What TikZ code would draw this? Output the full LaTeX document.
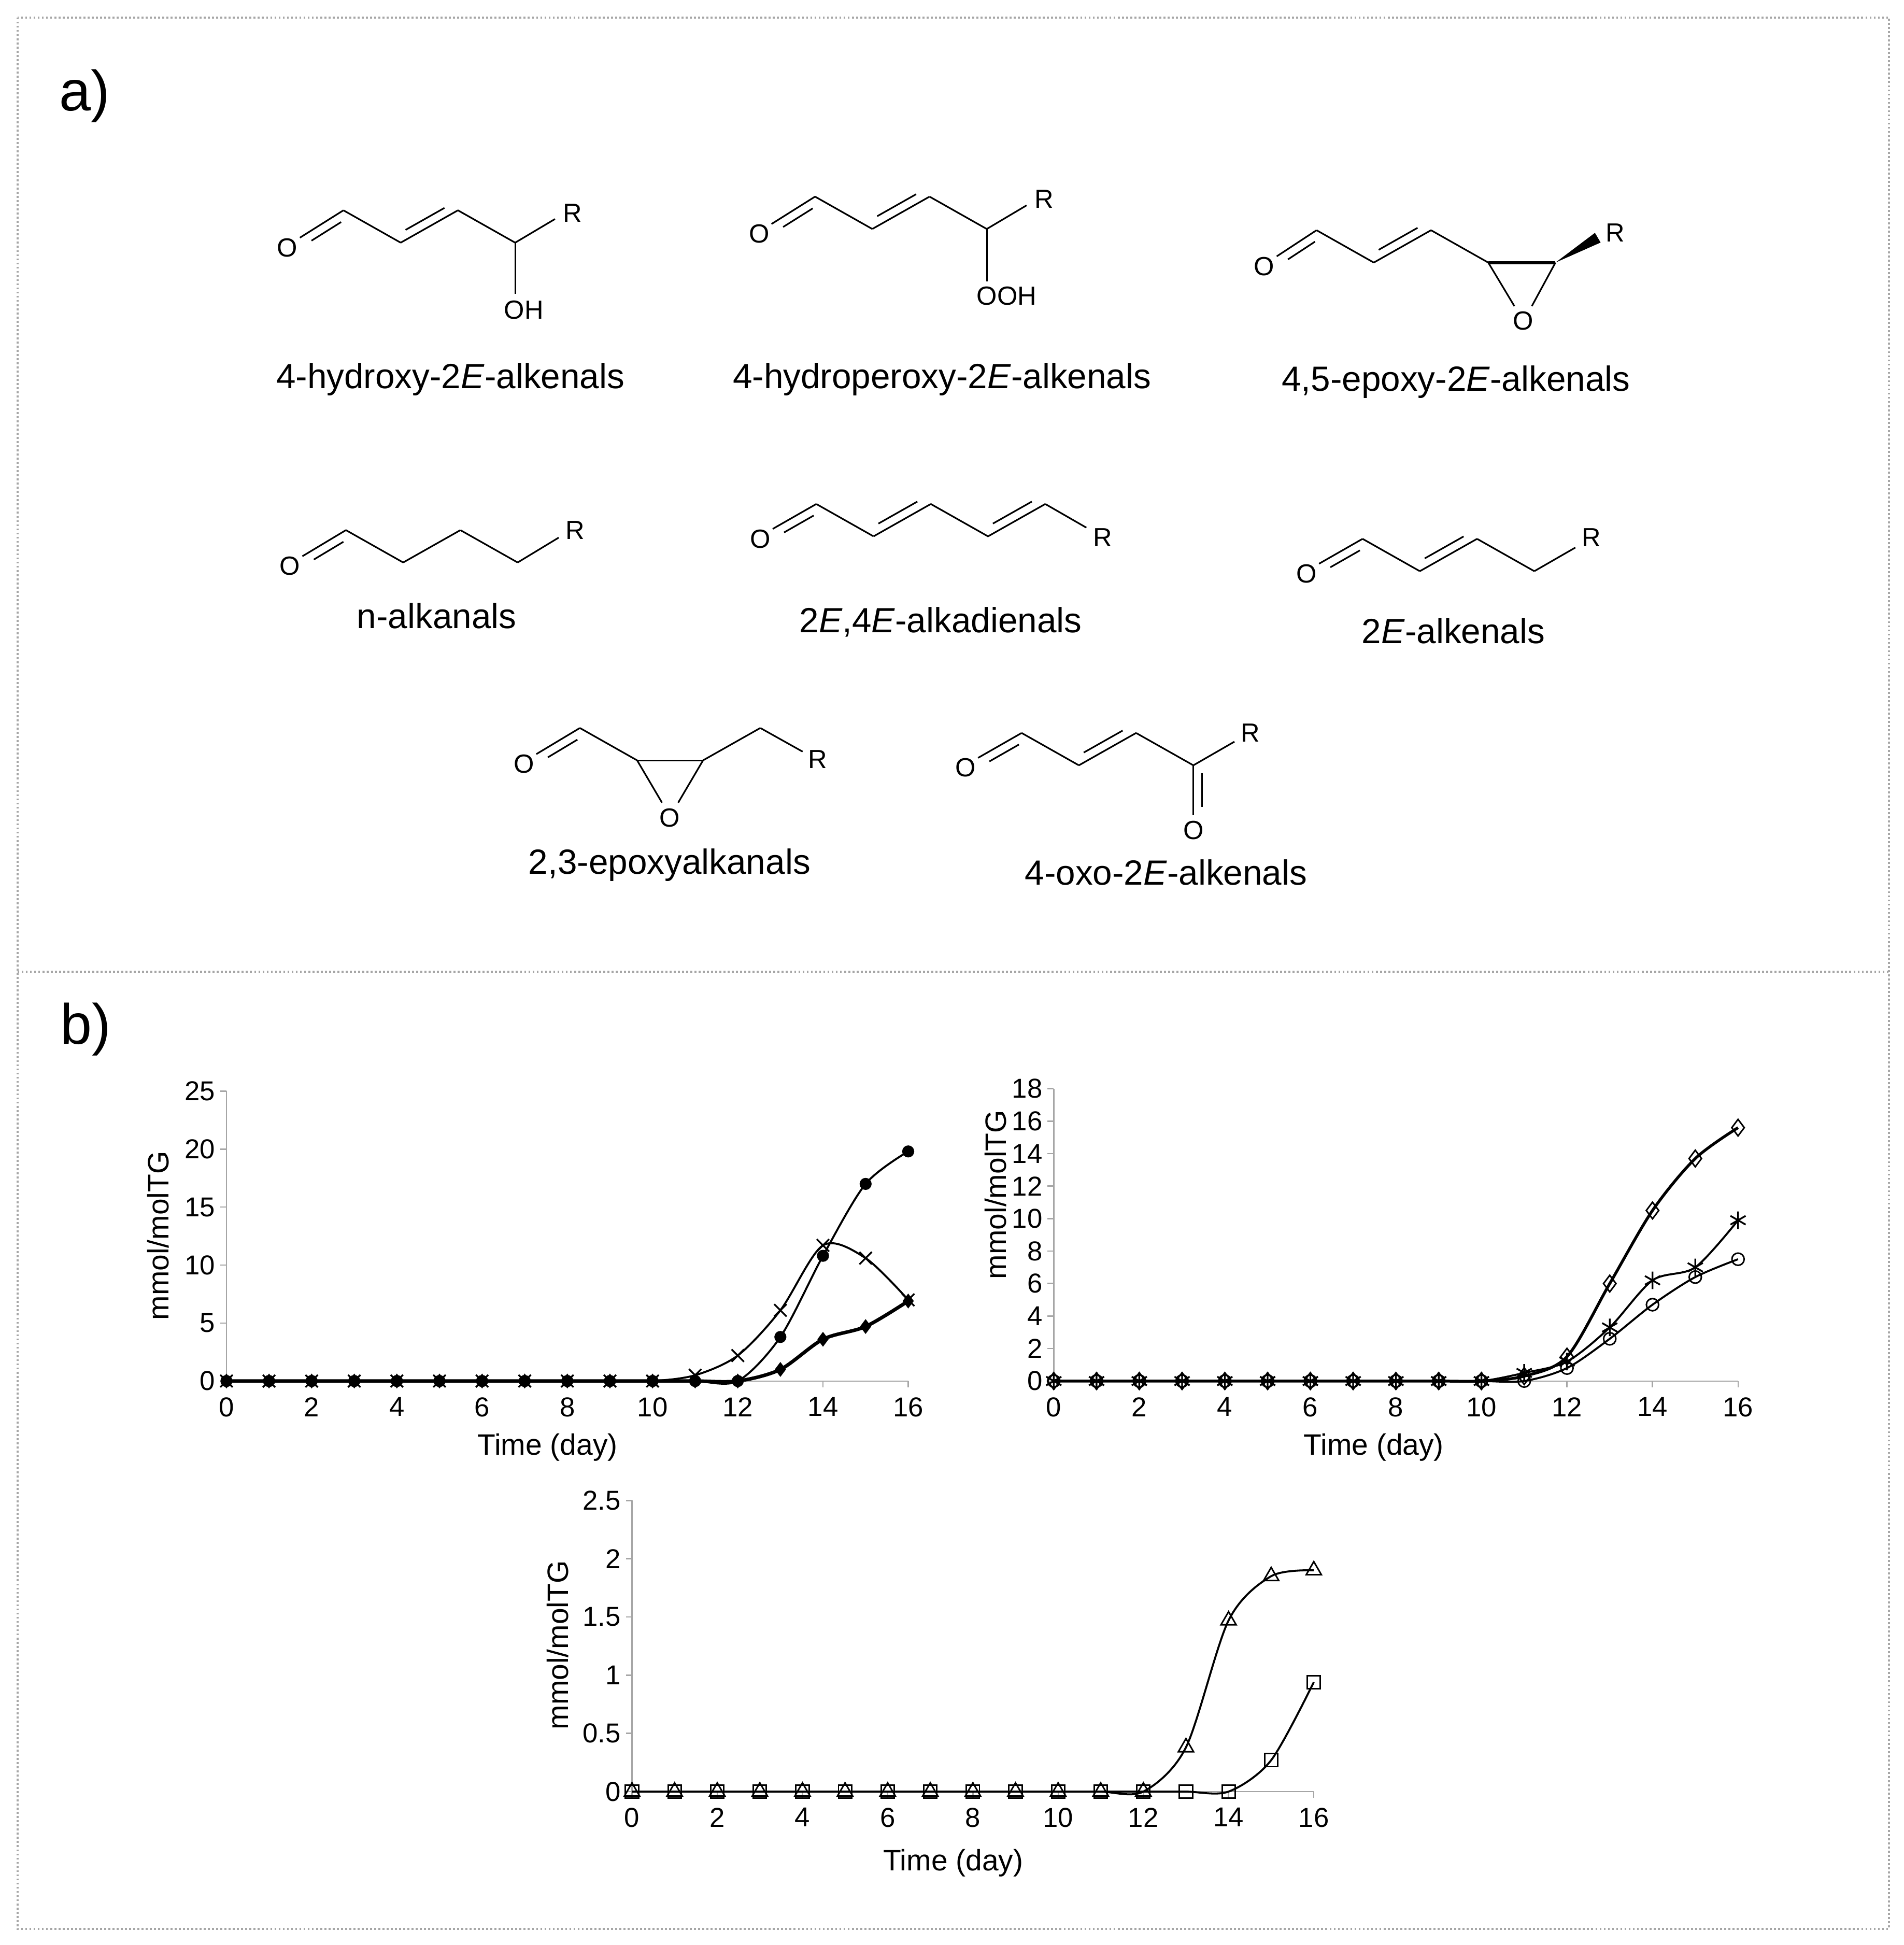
\documentclass[tikz,border=0pt]{standalone}
\usepackage{fontspec}
\setmainfont{Liberation Sans}
\usetikzlibrary{calc,plotmarks}
\tikzset{
  bondst/.style={line width=0.75pt},
  atom/.style={font=\fontsize{12}{14}\selectfont, inner sep=0pt},
  cname/.style={font=\fontsize{16}{19}\selectfont},
  tick/.style={font=\fontsize{12.5}{15}\selectfont, inner sep=1pt},
  axtitle/.style={font=\fontsize{13.5}{16}\selectfont},
  axisln/.style={gray!70, line width=0.6pt},
  curve/.style={black, line width=0.9pt, smooth, tension=0.5},
  frame/.style={gray!70, densely dotted, line width=0.9pt}
}
\newcommand\bnd[2]{\draw[bondst] (#1) -- (#2);}
\newcommand\dbl[4]{\draw[bondst] (#1) -- (#2);
  \draw[bondst] ($(#1)!0.16!(#2)!0.14cm!#3:(#2)$) -- ($(#2)!0.16!(#1)!0.14cm!#4:(#1)$);}
\begin{document}
\begin{tikzpicture}[x=0.02cm, y=-0.02cm]
\useasboundingbox (0,0) rectangle (1530,1563);
\fill[white] (0,0) rectangle (1530,1563);
\draw[frame] (14,14) rectangle (1518,1550);
\draw[frame] (14,781) -- (1518,781);
\node[font=\fontsize{26}{30}\selectfont] (la) at (68,77) {a)};
\node[font=\fontsize{26}{30}\selectfont] (lb) at (69,827) {b)};

% S1 4-hydroxy
\node[atom] (s1O) at (231,199) {O};
\coordinate (s1Oe) at (241,191); \coordinate (s1c1) at (276,169); \coordinate (s1c2) at (322,195);
\coordinate (s1c3) at (368,169); \coordinate (s1c4) at (414,195); \coordinate (s1Re) at (446,176);
\node[atom] (s1R) at (460,171) {R};
\coordinate (s1OHe) at (414,236); \node[atom] (s1OH) at (421,249) {OH};
\dbl{s1c1}{s1Oe}{90}{-90} \bnd{s1c1}{s1c2} \dbl{s1c2}{s1c3}{90}{-90} \bnd{s1c3}{s1c4} \bnd{s1c4}{s1Re} \bnd{s1c4}{s1OHe}
\node[cname] (n1) at (362,305) {4-hydroxy-2\textit{E}-alkenals};

% S2 4-hydroperoxy
\node[atom] (s2O) at (610,188) {O};
\coordinate (s2Oe) at (620,180); \coordinate (s2c1) at (655,158); \coordinate (s2c2) at (701,184);
\coordinate (s2c3) at (747,158); \coordinate (s2c4) at (793,184); \coordinate (s2Re) at (825,165);
\node[atom] (s2R) at (839,160) {R};
\coordinate (s2OOe) at (793,226); \node[atom] (s2OOH) at (809,238) {OOH};
\dbl{s2c1}{s2Oe}{90}{-90} \bnd{s2c1}{s2c2} \dbl{s2c2}{s2c3}{90}{-90} \bnd{s2c3}{s2c4} \bnd{s2c4}{s2Re} \bnd{s2c4}{s2OOe}
\node[cname] (n2) at (757,305) {4-hydroperoxy-2\textit{E}-alkenals};

% S3 4,5-epoxy
\node[atom] (s3O) at (1016,214) {O};
\coordinate (s3Oe) at (1026,206); \coordinate (s3c1) at (1058,185); \coordinate (s3c2) at (1104,211);
\coordinate (s3c3) at (1150,185); \coordinate (s3c4) at (1196,211); \coordinate (s3c5) at (1250,211);
\coordinate (s3e1) at (1217,246); \coordinate (s3e2) at (1231,246);
\node[atom] (s3Oep) at (1224,258) {O};
\coordinate (s3Re) at (1284,191); \node[atom] (s3R) at (1298,187) {R};
\dbl{s3c1}{s3Oe}{90}{-90} \bnd{s3c1}{s3c2} \dbl{s3c2}{s3c3}{90}{-90} \bnd{s3c3}{s3c4}
\draw[bondst, line width=1.4pt] (s3c4) -- (s3c5);
\bnd{s3c4}{s3e1} \bnd{s3c5}{s3e2}
\fill (s3c5) -- ($(s3Re)!0.09cm!90:(s3c5)$) -- ($(s3Re)!0.09cm!-90:(s3c5)$) -- cycle;
\node[cname] (n3) at (1170,307) {4,5-epoxy-2\textit{E}-alkenals};

% S4 n-alkanals
\node[atom] (s4O) at (233,455) {O};
\coordinate (s4Oe) at (243,447); \coordinate (s4c1) at (278,426); \coordinate (s4c2) at (324,452);
\coordinate (s4c3) at (370,426); \coordinate (s4c4) at (416,452); \coordinate (s4Re) at (449,432);
\node[atom] (s4R) at (462,426) {R};
\dbl{s4c1}{s4Oe}{90}{-90} \bnd{s4c1}{s4c2} \bnd{s4c2}{s4c3} \bnd{s4c3}{s4c4} \bnd{s4c4}{s4Re}
\node[cname] (n4) at (351,495) {n-alkanals};

% S5 2E,4E-alkadienals
\node[atom] (s5O) at (611,433) {O};
\coordinate (s5Oe) at (621,425); \coordinate (s5c1) at (656,405); \coordinate (s5c2) at (702,431);
\coordinate (s5c3) at (748,405); \coordinate (s5c4) at (794,431); \coordinate (s5c5) at (840,405);
\coordinate (s5Re) at (873,424); \node[atom] (s5R) at (886,432) {R};
\dbl{s5c1}{s5Oe}{90}{-90} \bnd{s5c1}{s5c2} \dbl{s5c2}{s5c3}{90}{-90} \bnd{s5c3}{s5c4} \dbl{s5c4}{s5c5}{90}{-90} \bnd{s5c5}{s5Re}
\node[cname] (n5) at (756,500) {2\textit{E},4\textit{E}-alkadienals};

% S6 2E-alkenals
\node[atom] (s6O) at (1050,461) {O};
\coordinate (s6Oe) at (1060,453); \coordinate (s6c1) at (1095,433); \coordinate (s6c2) at (1141,459);
\coordinate (s6c3) at (1187,433); \coordinate (s6c4) at (1233,459); \coordinate (s6Re) at (1266,440);
\node[atom] (s6R) at (1279,432) {R};
\dbl{s6c1}{s6Oe}{90}{-90} \bnd{s6c1}{s6c2} \dbl{s6c2}{s6c3}{90}{-90} \bnd{s6c3}{s6c4} \bnd{s6c4}{s6Re}
\node[cname] (n6) at (1168,507) {2\textit{E}-alkenals};

% S7 2,3-epoxyalkanals
\node[atom] (s7O) at (421,614) {O};
\coordinate (s7Oe) at (431,606); \coordinate (s7c1) at (466,585); \coordinate (s7c2) at (512,611);
\coordinate (s7c3) at (565,611); \coordinate (s7e1) at (532,645); \coordinate (s7e2) at (545,645);
\node[atom] (s7Oep) at (538,657) {O};
\coordinate (s7c4) at (611,585); \coordinate (s7Re) at (645,604); \node[atom] (s7R) at (657,610) {R};
\dbl{s7c1}{s7Oe}{90}{-90} \bnd{s7c1}{s7c2} \bnd{s7c2}{s7c3} \bnd{s7c2}{s7e1} \bnd{s7c3}{s7e2} \bnd{s7c3}{s7c4} \bnd{s7c4}{s7Re}
\node[cname] (n7) at (538,695) {2,3-epoxyalkanals};

% S8 4-oxo-2E-alkenals
\node[atom] (s8O) at (776,617) {O};
\coordinate (s8Oe) at (786,609); \coordinate (s8c1) at (821,589); \coordinate (s8c2) at (867,615);
\coordinate (s8c3) at (913,589); \coordinate (s8c4) at (959,615); \coordinate (s8Re) at (992,596);
\node[atom] (s8R) at (1005,589) {R};
\coordinate (s8O2e) at (959,655); \node[atom] (s8O2) at (959,667) {O};
\dbl{s8c1}{s8Oe}{90}{-90} \bnd{s8c1}{s8c2} \dbl{s8c2}{s8c3}{90}{-90} \bnd{s8c3}{s8c4} \bnd{s8c4}{s8Re} \dbl{s8c4}{s8O2e}{90}{-90}
\node[cname] (n8) at (937,701) {4-oxo-2\textit{E}-alkenals};

% axis titles
\node[axtitle] (t1) at (440,1163) {Time (day)};
\node[axtitle] (t2) at (1104,1163) {Time (day)};
\node[axtitle] (t3) at (766,1497) {Time (day)};
\node[axtitle, rotate=90] (y1) at (127,993) {mmol/molTG};
\node[axtitle, rotate=90] (y2) at (800,960) {mmol/molTG};
\node[axtitle, rotate=90] (y3) at (448,1322) {mmol/molTG};

% Chart 1
\begin{scope}[shift={(3.64cm,-22.2cm)}, x=0.685cm, y=0.1864cm]
\draw[axisln] (0,0) -- (0,25); \draw[axisln] (0,0) -- (16,0);
\foreach \v in {0,5,...,25} {\draw[axisln] (0,\v) -- ++(-0.1cm,0); \node[tick,anchor=east] at ([xshift=-0.14cm]0,\v) {\v};}
\foreach \v in {0,2,...,16} {\draw[axisln] (\v,0) -- ++(0,-0.1cm); \node[tick,anchor=north] at ([yshift=-0.22cm]\v,0) {\v};}
\draw[curve, mark=*, mark size=2.3pt] plot coordinates {(0,0)(1,0)(2,0)(3,0)(4,0)(5,0)(6,0)(7,0)(8,0)(9,0)(10,0)(11,0)(12,0)(13,3.8)(14,10.8)(15,17)(16,19.8)};
\draw[curve, mark=x, mark size=4pt, mark options={line width=0.8pt}] plot coordinates {(0,0)(1,0)(2,0)(3,0)(4,0)(5,0)(6,0)(7,0)(8,0)(9,0)(10,0)(11,0.5)(12,2.2)(13,6.1)(14,11.7)(15,10.6)(16,7)};
\draw[curve, line width=1.6pt, mark=diamond*, mark size=3pt, mark options={line width=0.5pt}] plot coordinates {(0,0)(1,0)(2,0)(3,0)(4,0)(5,0)(6,0)(7,0)(8,0)(9,0)(10,0)(11,0)(12,0)(13,1)(14,3.6)(15,4.7)(16,6.9)};
\end{scope}

% Chart 2
\begin{scope}[shift={(16.94cm,-22.2cm)}, x=0.6875cm, y=0.2611cm]
\draw[axisln] (0,0) -- (0,18); \draw[axisln] (0,0) -- (16,0);
\foreach \v in {0,2,...,18} {\draw[axisln] (0,\v) -- ++(-0.1cm,0); \node[tick,anchor=east] at ([xshift=-0.14cm]0,\v) {\v};}
\foreach \v in {0,2,...,16} {\draw[axisln] (\v,0) -- ++(0,-0.1cm); \node[tick,anchor=north] at ([yshift=-0.22cm]\v,0) {\v};}
\draw[curve, mark=o, mark size=2.8pt, mark options={fill=white, line width=0.7pt}] plot coordinates {(0,0)(1,0)(2,0)(3,0)(4,0)(5,0)(6,0)(7,0)(8,0)(9,0)(10,0)(11,0)(12,0.8)(13,2.6)(14,4.7)(15,6.4)(16,7.5)};
\draw[curve, mark=asterisk, mark size=4pt, mark options={line width=0.8pt}] plot coordinates {(0,0)(1,0)(2,0)(3,0)(4,0)(5,0)(6,0)(7,0)(8,0)(9,0)(10,0)(11,0.5)(12,1.2)(13,3.3)(14,6.2)(15,7)(16,9.9)};
\draw[curve, line width=1.3pt, mark=diamond, mark size=3.8pt, mark options={fill=white, line width=0.7pt}] plot coordinates {(0,0)(1,0)(2,0)(3,0)(4,0)(5,0)(6,0)(7,0)(8,0)(9,0)(10,0)(11,0.3)(12,1.5)(13,6)(14,10.5)(15,13.7)(16,15.6)};
\end{scope}

% Chart 3
\begin{scope}[shift={(10.16cm,-28.8cm)}, x=0.685cm, y=1.872cm]
\draw[axisln] (0,0) -- (0,2.5); \draw[axisln] (0,0) -- (16,0);
\foreach \v in {0,0.5,1,1.5,2,2.5} {\draw[axisln] (0,\v) -- ++(-0.1cm,0); \node[tick,anchor=east] at ([xshift=-0.14cm]0,\v) {\v};}
\foreach \v in {0,2,...,16} {\draw[axisln] (\v,0) -- ++(0,-0.1cm); \node[tick,anchor=north] at ([yshift=-0.22cm]\v,0) {\v};}
\draw[curve, mark=square, mark size=3pt, mark options={fill=white, line width=0.7pt}] plot coordinates {(0,0)(1,0)(2,0)(3,0)(4,0)(5,0)(6,0)(7,0)(8,0)(9,0)(10,0)(11,0)(12,0)(13,0)(14,0)(15,0.27)(16,0.94)};
\draw[curve, mark=triangle, mark size=4pt, mark options={fill=white, line width=0.7pt}] plot coordinates {(0,0)(1,0)(2,0)(3,0)(4,0)(5,0)(6,0)(7,0)(8,0)(9,0)(10,0)(11,0)(12,0)(13,0.38)(14,1.47)(15,1.85)(16,1.9)};
\end{scope}
\end{tikzpicture}
\end{document}
